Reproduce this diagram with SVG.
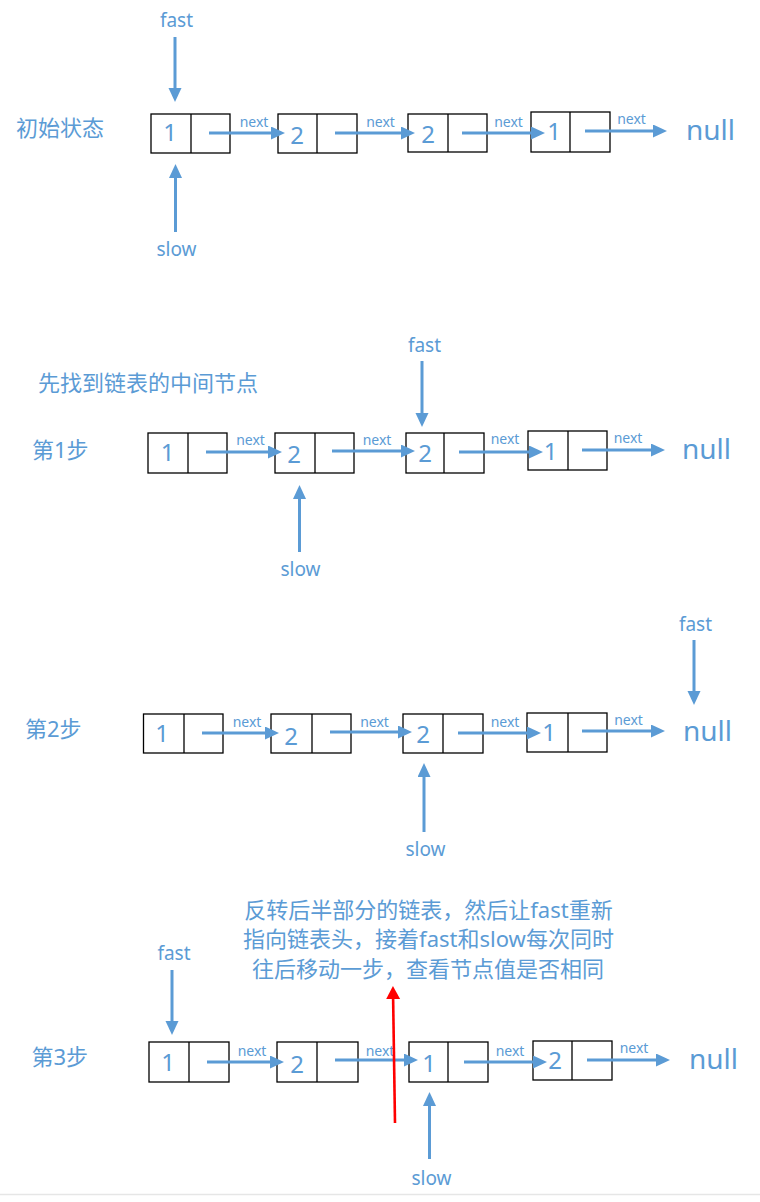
<svg xmlns="http://www.w3.org/2000/svg" width="760" height="1202" viewBox="0 0 760 1202">
<style>
.t{font-family:"Noto Sans","Noto Sans CJK SC",sans-serif;fill:#5B9BD5}
.lbl{font-size:22px}
.ptr{font-size:19px;text-anchor:middle}
.dg{font-size:24px;text-anchor:middle}
.nx{font-size:14px;text-anchor:middle}
.nl{font-size:28px}
.box{fill:#fff;stroke:#000;stroke-width:1.3}
.dv{stroke:#000;stroke-width:1.3}
.ar{stroke:#5B9BD5;stroke-width:3;fill:none;marker-end:url(#ah)}
.red{stroke:#FF0000;stroke-width:2.6;fill:none;marker-end:url(#rh)}
</style>
<defs>
<marker id="ah" markerUnits="userSpaceOnUse" markerWidth="16" markerHeight="14" refX="2" refY="6.5" orient="auto">
<path d="M0,0 L14,6.5 L0,13 z" fill="#5B9BD5"/>
</marker>
<marker id="rh" markerUnits="userSpaceOnUse" markerWidth="16" markerHeight="16" refX="2" refY="7" orient="auto">
<path d="M0,0 L13,7 L0,14 z" fill="#FF0000"/>
</marker>
</defs>
<rect width="760" height="1202" fill="#fff"/>
<line x1="0" y1="1194.5" x2="760" y2="1194.5" stroke="#e6e6e6" stroke-width="1.5"/>

<!-- Section 1 -->
<g id="s1-title"><text class="t lbl" x="16" y="135.5">初始状态</text></g>
<g id="s1-n1"><rect class="box" x="151" y="114" width="79" height="39"/><line class="dv" x1="191" y1="114" x2="191" y2="153"/><text class="t dg" x="170" y="141">1</text></g>
<g id="s1-n2"><rect class="box" x="278" y="114" width="79" height="39"/><line class="dv" x1="317" y1="114" x2="317" y2="153"/><text class="t dg" x="297" y="144">2</text></g>
<g id="s1-n3"><rect class="box" x="408" y="114" width="79" height="38"/><line class="dv" x1="448" y1="114" x2="448" y2="152"/><text class="t dg" x="428" y="143">2</text></g>
<g id="s1-n4"><rect class="box" x="531" y="112" width="79" height="40"/><line class="dv" x1="570" y1="112" x2="570" y2="152"/><text class="t dg" x="554" y="140">1</text></g>
<g id="s1-null"><text class="t nl" x="686" y="139.5">null</text></g>
<g id="s1-fast"><text class="t ptr" x="176.5" y="27">fast</text></g>
<g id="s1-slow"><text class="t ptr" x="176.5" y="256">slow</text></g>

<!-- Section 2 -->
<g id="s2-title"><text class="t lbl" x="38" y="390.5">先找到链表的中间节点</text></g>
<g id="s2-step"><text class="t lbl" x="32" y="457.5">第1步</text></g>
<g id="s2-n1"><rect class="box" x="148" y="433" width="79" height="40"/><line class="dv" x1="188" y1="433" x2="188" y2="473"/><text class="t dg" x="167.5" y="461">1</text></g>
<g id="s2-n2"><rect class="box" x="275" y="433" width="79" height="40"/><line class="dv" x1="315" y1="433" x2="315" y2="473"/><text class="t dg" x="294" y="463">2</text></g>
<g id="s2-n3"><rect class="box" x="406" y="433" width="78" height="40"/><line class="dv" x1="444" y1="433" x2="444" y2="473"/><text class="t dg" x="425" y="462">2</text></g>
<g id="s2-n4"><rect class="box" x="528" y="431" width="79" height="39"/><line class="dv" x1="568" y1="431" x2="568" y2="470"/><text class="t dg" x="550.5" y="460">1</text></g>
<g id="s2-null"><text class="t nl" x="682" y="459">null</text></g>
<g id="s2-fast"><text class="t ptr" x="424.5" y="352">fast</text></g>
<g id="s2-slow"><text class="t ptr" x="300.5" y="576">slow</text></g>

<!-- Section 3 -->
<g id="s3-step"><text class="t lbl" x="25" y="736.5">第2步</text></g>
<g id="s3-n1"><rect class="box" x="143.5" y="714" width="79.5" height="39"/><line class="dv" x1="184" y1="714" x2="184" y2="753"/><text class="t dg" x="162" y="742">1</text></g>
<g id="s3-n2"><rect class="box" x="271" y="714" width="80" height="39"/><line class="dv" x1="312" y1="714" x2="312" y2="753"/><text class="t dg" x="291" y="745">2</text></g>
<g id="s3-n3"><rect class="box" x="403" y="714" width="80" height="39"/><line class="dv" x1="443" y1="714" x2="443" y2="753"/><text class="t dg" x="423" y="743">2</text></g>
<g id="s3-n4"><rect class="box" x="527" y="713" width="80" height="39"/><line class="dv" x1="568" y1="713" x2="568" y2="752"/><text class="t dg" x="549" y="741">1</text></g>
<g id="s3-null"><text class="t nl" x="683" y="741">null</text></g>
<g id="s3-fast"><text class="t ptr" x="695.5" y="631">fast</text></g>
<g id="s3-slow"><text class="t ptr" x="425.5" y="856">slow</text></g>

<!-- Section 4 -->
<g id="s4-note">
<text class="t lbl" x="428.5" y="918" text-anchor="middle">反转后半部分的链表，然后让fast重新</text>
<text class="t lbl" x="428.5" y="947" text-anchor="middle">指向链表头，接着fast和slow每次同时</text>
<text class="t lbl" x="428" y="977" text-anchor="middle">往后移动一步，查看节点值是否相同</text>
</g>
<g id="s4-step"><text class="t lbl" x="31.5" y="1065">第3步</text></g>
<g id="s4-n1"><rect class="box" x="149" y="1042" width="80" height="40"/><line class="dv" x1="189" y1="1042" x2="189" y2="1082"/><text class="t dg" x="168" y="1071">1</text></g>
<g id="s4-n2"><rect class="box" x="277" y="1042" width="81" height="40"/><line class="dv" x1="317" y1="1042" x2="317" y2="1082"/><text class="t dg" x="297" y="1073">2</text></g>
<g id="s4-n3"><rect class="box" x="409" y="1042" width="79" height="40"/><line class="dv" x1="448" y1="1042" x2="448" y2="1082"/><text class="t dg" x="429" y="1072">1</text></g>
<g id="s4-n4"><rect class="box" x="533" y="1041" width="79" height="39"/><line class="dv" x1="572" y1="1041" x2="572" y2="1080"/><text class="t dg" x="555" y="1069">2</text></g>
<g id="s4-null"><text class="t nl" x="689" y="1069">null</text></g>
<g id="s4-fast"><text class="t ptr" x="174" y="960">fast</text></g>
<g id="s4-slow"><text class="t ptr" x="431.5" y="1185">slow</text></g>

<g id="connectors">
<!-- section 1 -->
<line class="ar" x1="209" y1="133" x2="273" y2="133"/>
<line class="ar" x1="335" y1="133" x2="403" y2="133"/>
<line class="ar" x1="462" y1="133" x2="533" y2="133"/>
<line class="ar" x1="585" y1="131" x2="655" y2="131"/>
<line class="ar" x1="175" y1="37" x2="175" y2="90"/>
<line class="ar" x1="175.5" y1="232" x2="175.5" y2="176"/>
<!-- section 2 -->
<line class="ar" x1="206" y1="452" x2="270" y2="452"/>
<line class="ar" x1="332" y1="451" x2="403" y2="451"/>
<line class="ar" x1="459" y1="452" x2="531" y2="452"/>
<line class="ar" x1="582" y1="450" x2="653" y2="450"/>
<line class="ar" x1="422" y1="361" x2="422" y2="415"/>
<line class="ar" x1="299.5" y1="552" x2="299.5" y2="497"/>
<!-- section 3 -->
<line class="ar" x1="202" y1="733" x2="267" y2="733"/>
<line class="ar" x1="330" y1="732" x2="400" y2="732"/>
<line class="ar" x1="458" y1="733" x2="529" y2="733"/>
<line class="ar" x1="582" y1="731" x2="653" y2="731"/>
<line class="ar" x1="694" y1="640" x2="694" y2="693"/>
<line class="ar" x1="424" y1="832" x2="424" y2="775"/>
<!-- section 4 -->
<line class="ar" x1="207" y1="1062" x2="272" y2="1062"/>
<line class="ar" x1="335" y1="1060" x2="406" y2="1060"/>
<line class="ar" x1="464" y1="1062" x2="535" y2="1062"/>
<line class="ar" x1="587" y1="1060" x2="658" y2="1060"/>
<line class="ar" x1="172" y1="970" x2="172" y2="1023"/>
<line class="ar" x1="429.5" y1="1159" x2="429.5" y2="1104"/>
</g>
<g id="nexts">
<text class="t nx" x="254" y="127">next</text>
<text class="t nx" x="380.5" y="127">next</text>
<text class="t nx" x="508.5" y="127">next</text>
<text class="t nx" x="631.5" y="124">next</text>
<text class="t nx" x="250.5" y="445">next</text>
<text class="t nx" x="377" y="445">next</text>
<text class="t nx" x="505" y="444">next</text>
<text class="t nx" x="628" y="443">next</text>
<text class="t nx" x="247" y="727">next</text>
<text class="t nx" x="374.5" y="727">next</text>
<text class="t nx" x="505" y="727">next</text>
<text class="t nx" x="628.5" y="725">next</text>
<text class="t nx" x="252" y="1056">next</text>
<text class="t nx" x="380" y="1056">next</text>
<text class="t nx" x="510" y="1056">next</text>
<text class="t nx" x="634" y="1053">next</text>
</g>
<g id="red-arrow">
<line class="red" x1="395" y1="1123" x2="393.1" y2="997"/>
</g>
</svg>
